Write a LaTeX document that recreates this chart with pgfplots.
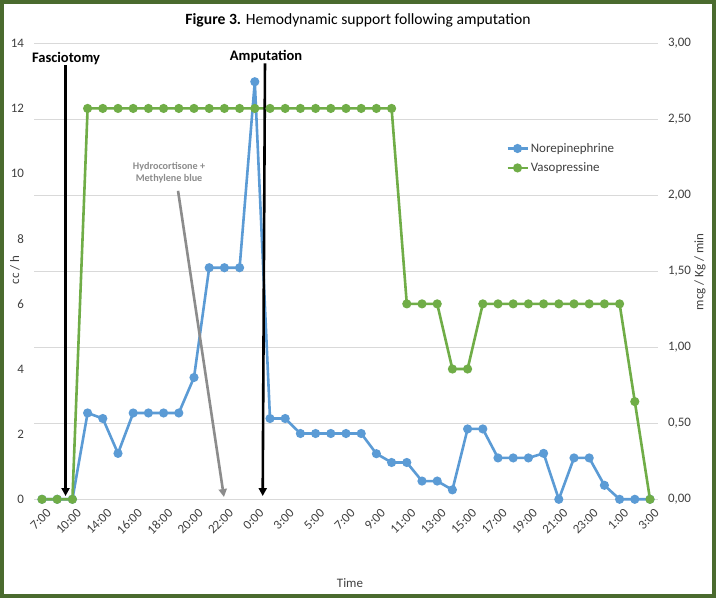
\documentclass[border=0pt]{standalone}
\usepackage{fontspec}
\setmainfont{Carlito}
\usepackage{pgfplots}
\usepackage{pgfplotstable}
\pgfplotsset{compat=1.18}
\usetikzlibrary{arrows.meta}
\definecolor{noreBlue}{HTML}{5B9BD5}
\definecolor{vasoGreen}{HTML}{70AD47}
\definecolor{gridGray}{HTML}{D9D9D9}
\definecolor{frameGreen}{HTML}{4A6B2E}
\definecolor{noteGray}{HTML}{8C8C8C}
\definecolor{labelGray}{HTML}{404040}

% category index (every 2nd one is labelled), norepinephrine, vasopressine (cc/h)
\pgfplotstableread{
idx nore vaso
0 0 0
1 0 0
2 0 0
3 2.65 12
4 2.48 12
5 1.41 12
6 2.65 12
7 2.65 12
8 2.65 12
9 2.65 12
10 3.74 12
11 7.11 12
12 7.11 12
13 7.11 12
14 12.82 12
15 2.48 12
16 2.48 12
17 2.02 12
18 2.02 12
19 2.02 12
20 2.02 12
21 2.02 12
22 1.40 12
23 1.13 12
24 1.13 6
25 0.56 6
26 0.56 6
27 0.29 4
28 2.16 4
29 2.16 6
30 1.27 6
31 1.27 6
32 1.27 6
33 1.41 6
34 0 6
35 1.27 6
36 1.27 6
37 0.43 6
38 0 6
39 0 3
40 0 0
}\hemotable

\pgfplotsset{
  hemo base/.style={
    at={(34.4bp,98.7bp)}, anchor=south west,
    scale only axis, width=623.2bp, height=456bp,
    xmin=-0.5, xmax=40.5,
    axis line style={draw=none},
    major tick style={draw=none},
    tick label style={font=\fontsize{13}{15}\selectfont, labelGray},
  },
}

\begin{document}
\begin{tikzpicture}
  \useasboundingbox (0,0) rectangle (716bp,598bp);
  \fill[white] (0,0) rectangle (716bp,598bp);

  % secondary axis: right ticks and the gridlines
  \begin{axis}[
    hemo base,
    ymin=0, ymax=3,
    ytick={0,0.5,...,3},
    xtick=\empty,
    axis y line*=right,
    ymajorgrids,
    major grid style={gridGray, line width=0.9bp},
    yticklabel style={xshift=7bp, /pgf/number format/.cd, fixed, fixed zerofill, precision=2, use comma, assume math mode=true},
  ]
  \end{axis}

  % main axis
  \begin{axis}[
    hemo base,
    ymin=0, ymax=14,
    ytick={0,2,...,14},
    yticklabel style={xshift=-7bp, /pgf/number format/assume math mode=true},
    xtick={0,2,...,40},
    xticklabels={7:00,10:00,14:00,16:00,18:00,20:00,22:00,0:00,3:00,5:00,7:00,9:00,11:00,13:00,15:00,17:00,19:00,21:00,23:00,1:00,3:00},
    xticklabel style={rotate=45, anchor=east, yshift=-13bp, xshift=0bp},
    clip=false,
    legend style={at={(rel axis cs:0.752,0.79)}, anchor=north west, draw=none, fill=none,
      font=\fontsize{13}{15}\selectfont, row sep=5bp, text=labelGray},
    legend cell align=left,
    legend image code/.code={\draw[mark repeat=2, mark phase=2, #1] plot coordinates {(0bp,0bp) (10bp,0bp) (20bp,0bp)};},
  ]
    \addplot[noreBlue, line width=2.6bp, mark=*, mark size=3.2bp] table[x=idx, y=nore] {\hemotable};
    \addlegendentry{Norepinephrine}
    \addplot[vasoGreen, line width=2.6bp, mark=*, mark size=3.2bp] table[x=idx, y=vaso] {\hemotable};
    \addlegendentry{Vasopressine}

    % event arrows
    \draw[black, line width=2.6bp, -{Triangle[length=8bp, width=8bp]}]
      (axis cs:1.55,13.33) -- (axis cs:1.55,0.1);
    \draw[black, line width=2.6bp, -{Triangle[length=8bp, width=8bp]}]
      (axis cs:14.67,13.38) -- (axis cs:14.52,0.1);
    \draw[noteGray, line width=2.6bp, -{Triangle[length=8bp, width=8bp]}]
      (axis cs:8.95,9.47) -- (axis cs:11.97,0.07);
    \node[font=\bfseries\fontsize{14.6}{17}\selectfont] at (axis cs:1.58,13.54) {Fasciotomy};
    \node[font=\bfseries\fontsize{14.6}{17}\selectfont] at (axis cs:14.74,13.59) {Amputation};
    \node[font=\bfseries\fontsize{10.2}{12}\selectfont, noteGray, align=center] at (axis cs:8.36,10.03)
      {Hydrocortisone +\\Methylene blue};
  \end{axis}

  % titles and axis names
  \node[font=\fontsize{15.7}{18}\selectfont] at (358bp,578bp) {\textbf{Figure 3.} Hemodynamic support following amputation};
  \node[font=\fontsize{13}{15}\selectfont, labelGray, rotate=90] at (15bp,328bp) {cc / h};
  \node[font=\fontsize{13}{15}\selectfont, labelGray, rotate=90] at (700bp,326bp) {mcg / Kg / min};
  \node[font=\fontsize{13}{15}\selectfont, labelGray] at (350bp,15bp) {Time};

  \draw[frameGreen, line width=3.6bp] (1.8bp,1.8bp) rectangle (714.2bp,596.2bp);
\end{tikzpicture}
\end{document}
